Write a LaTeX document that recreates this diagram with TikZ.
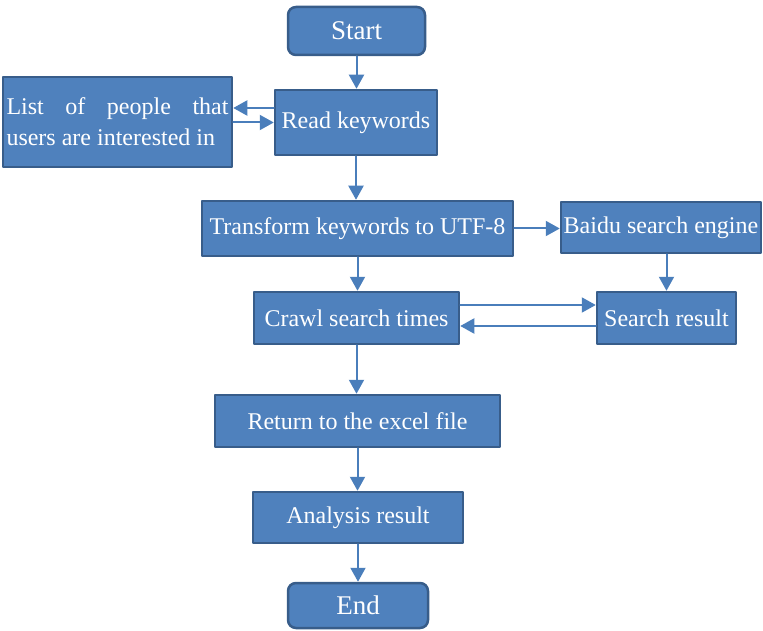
\documentclass[tikz,border=0pt]{standalone}
\usepackage{fontspec}
\setmainfont{Liberation Serif}
\usepackage{xcolor}
\usetikzlibrary{arrows.meta}

\definecolor{boxfill}{HTML}{4F81BD}
\definecolor{boxline}{HTML}{385D8A}
\definecolor{arrline}{HTML}{4A7EBB}

\begin{document}
\begin{tikzpicture}[x=1pt,y=-1pt,line cap=round,line join=round,
    box/.style={draw=boxline,fill=boxfill,line width=2.5pt,text=white,
        inner sep=0pt,font=\fontsize{24}{27}\selectfont},
    term/.style={box,rounded corners=8pt,font=\fontsize{27}{30}\selectfont},
    arr/.style={draw=arrline,line width=2pt,-{Triangle[width=15pt,length=14pt]}}]
\useasboundingbox (0,0) rectangle (763,631);

\node[term,minimum width=137pt,minimum height=48pt] (start) at (356.5,31) {Start};
\node[box,minimum width=162pt,minimum height=65pt] (read) at (356,122.5) {Read keywords};
\node[box,minimum width=229pt,minimum height=90pt,text width=222pt,align=justify,
    font=\fontsize{24}{31}\selectfont] (list) at (117.5,122)
    {List of people that\linebreak users are interested in};
\node[box,minimum width=311pt,minimum height=55pt] (trans) at (357.5,228.5) {Transform keywords to UTF-8};
\node[box,minimum width=200pt,minimum height=51pt] (baidu) at (661,227.5) {Baidu search engine};
\node[box,minimum width=205pt,minimum height=52pt] (crawl) at (356.5,318) {Crawl search times};
\node[box,minimum width=139pt,minimum height=52pt] (search) at (666.5,318) {Search result};
\node[box,minimum width=285pt,minimum height=52pt] (ret) at (357.5,421) {Return to the excel file};
\node[box,minimum width=210pt,minimum height=51pt] (ana) at (358,517.5) {Analysis result};
\node[term,minimum width=140pt,minimum height=45pt] (stop) at (358,605.5) {End};

% main column
\foreach \a/\b in {start/read,read/trans,trans/crawl,crawl/ret,ret/ana,ana/stop}
    \draw[arr] (\a.south) -- (\a.south |- \b.north);

% side branches
\draw[arr] ([yshift=14.5pt]read.west) -- ([yshift=14.5pt]read.west -| list.east);
\draw[arr] (list.east |- read.west) -- (read.west);
\draw[arr] (trans.east) -- (trans.east -| baidu.west);
\draw[arr] (baidu.south -| search.north) -- (search.north);
\draw[arr] ([yshift=13pt]crawl.east) -- ([yshift=13pt]crawl.east -| search.west);
\draw[arr] ([yshift=-8pt]search.west) -- ([yshift=-8pt]search.west -| crawl.east);
\end{tikzpicture}
\end{document}
